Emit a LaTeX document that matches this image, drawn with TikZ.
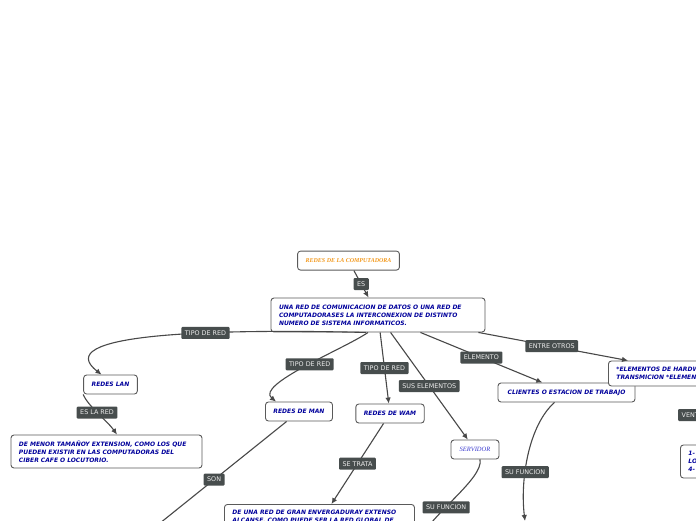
\documentclass[tikz,border=0pt]{standalone}
\usepackage{fontspec}
\setmainfont{Liberation Serif}
\setsansfont{DejaVu Sans}
\usepackage{tikz}
\usetikzlibrary{positioning,arrows.meta,calc}
\definecolor{boxline}{HTML}{5A5A5A}
\definecolor{txtblue}{HTML}{00009C}
\definecolor{tagfill}{HTML}{474D4D}
\definecolor{linkgray}{HTML}{484848}
\definecolor{titleorange}{HTML}{F39A1E}
\definecolor{srvblue}{HTML}{3A3AD0}

\begin{document}
\begin{tikzpicture}[
    x=1pt, y=-1pt,
    font=\sffamily,
    box/.style={rectangle, draw=boxline, fill=white, rounded corners=3pt, line width=0.9pt, inner xsep=8pt, inner ysep=5.5pt, text=txtblue, font=\sffamily\bfseries\itshape\fontsize{6}{8}\selectfont},
    onebox/.style={box, minimum height=19pt, inner ysep=2pt},
    longbox/.style={box, align=left, text width=#1},
    titlebox/.style={box, minimum height=19pt, inner ysep=2pt, text=titleorange, font=\rmfamily\bfseries\itshape\fontsize{6}{7}\selectfont},
    srvbox/.style={box, minimum height=19pt, inner ysep=2pt, text=srvblue, font=\rmfamily\itshape\fontsize{6.5}{7}\selectfont},
    tag/.style={rectangle, fill=tagfill, rounded corners=1pt, text=white!93!black, font=\sffamily\fontsize{6.4}{7}\selectfont, inner xsep=3.5pt, inner ysep=1pt, minimum height=12pt},
    arr/.style={-{Latex[length=6pt,width=5.5pt]}, line width=1.1pt, draw=linkgray}
]
\fill[white] (0,0) rectangle (696,520);
\useasboundingbox (0,0) rectangle (696,520);
\clip (0,0) rectangle (696,520);

% --- central concept ---
\node[box, text width=198pt, minimum height=34pt, align=left] (main) at (378,315) {UNA RED DE COMUNICACION DE DATOS O UNA RED DE\\COMPUTADORASES LA INTERCONEXION DE DISTINTO\\NUMERO DE SISTEMA INFORMATICOS.};
\node[titlebox, minimum width=101pt, above=27pt of main, xshift=-29.5pt] (title) {REDES DE LA COMPUTADORA};

% --- network types ---
\node[onebox, minimum width=53pt] (lan) at (110.5,384.5) {REDES LAN};
\node[longbox=175pt, minimum height=33pt] (menor) at (106.5,451.5) {DE MENOR TAMAÑOY EXTENSION, COMO LOS QUE\\PUEDEN EXISTIR EN LAS COMPUTADORAS DEL\\CIBER CAFE O LOCUTORIO.};
\node[onebox, minimum width=66pt] (man) at (299,411.5) {REDES DE MAN};
\node[onebox, minimum width=68pt] (wam) at (390,413.5) {REDES DE WAM};
\node[longbox=174pt, anchor=north west] (granred) at (224,504) {DE UNA RED DE GRAN ENVERGADURAY EXTENSO\\ALCANSE, COMO PUEDE SER LA RED GLOBAL DE};

% --- elements ---
\node[srvbox, minimum width=48pt] (servidor) at (475,449.5) {SERVIDOR};
\node[onebox, minimum width=137pt] (clientes) at (566.5,392.5) {CLIENTES O ESTACION DE TRABAJO};
\node[longbox=160pt, minimum height=25pt, anchor=west] (hardw) at (608,373.5) {*ELEMENTOS DE HARDW\\TRANSMICION *ELEMEN};
\node[tag, anchor=west, text width=34pt, align=left] (vent) at (678,415) {VENT};
\node[longbox=60pt, minimum height=33pt, anchor=west] (ventlist) at (680,461.5) {1-\\LO\\4-};

% --- free ends below the frame ---
\coordinate (manfoot) at (114,560);
\coordinate (srvfoot) at (418,545);
\coordinate (clifoot) at (525,521);

% --- connectors ---
\draw[arr] (title) -- (main) node[midway, tag]{ES};
\draw[arr] ([xshift=-12pt]main.south) .. controls +(-166,-4) and +(-51.5,-40) .. ([xshift=-9pt]lan.north) node[pos=0.35, tag]{TIPO DE RED};
\draw[arr] ([xshift=-10pt]main.south) .. controls +(-23,16) and +(-21,-17) .. ([xshift=-23pt]man.north) node[pos=0.47, tag]{TIPO DE RED};
\draw[arr] (main) -- (wam) node[midway, tag]{TIPO DE RED};
\draw[arr] (main) -- (servidor) node[midway, tag]{SUS ELEMENTOS};
\draw[arr] (main) -- (clientes) node[midway, tag]{ELEMENTO};
\draw[arr] ([xshift=-7pt]main.south east) -- ([xshift=20pt]hardw.north west) node[pos=0.49, tag]{ENTRE OTROS};

\draw[arr] (lan.south west) .. controls +(5,12) and +(-10,-14) .. ([xshift=10.5pt]menor.north) node[pos=0.47, tag]{ES LA RED};
\draw[arr] (man) -- (manfoot) node[pos=0.42, tag]{SON};
\draw[arr] (wam) -- ([xshift=12pt]granred.north) node[midway, tag]{SE TRATA};
\draw[arr] ([xshift=5pt]servidor.south) .. controls +(4,19) and +(12,-30) .. (srvfoot) node[pos=0.6, tag]{SU FUNCION};
\draw[arr] ([xshift=-12pt]clientes.south) .. controls +(-26,23) and +(-5,-41) .. (clifoot) node[pos=0.63, tag]{SU FUNCION};

\end{tikzpicture}
\end{document}
